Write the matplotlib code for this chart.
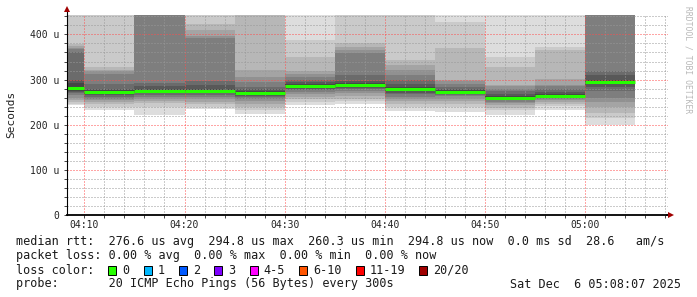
import matplotlib
matplotlib.use("Agg")
import matplotlib.pyplot as plt
from matplotlib.patches import Rectangle
from matplotlib.lines import Line2D
import numpy as np

W, H, DPI = 697, 297, 100
MONO = "DejaVu Sans Mono"

# ---------------- data ----------------
segment_starts = ["04:05", "04:10", "04:15", "04:20", "04:25", "04:30",
                  "04:35", "04:40", "04:45", "04:50", "04:55", "05:00"]
segment_len_min = 5
view_start = "04:08:16"
view_end = "05:08:16"

# 20 sorted ping round-trip times per 5-minute step (microseconds)
pings_0405 = [243, 246, 250, 255, 260, 265, 270, 272, 275, 278, 284, 292, 300, 361, 368, 370, 374, 378, 460, 500]
pings_0410 = [233, 240, 245, 250, 255, 258, 262, 265, 268, 270, 273, 276, 280, 290, 312, 318, 322, 327, 460, 480]
pings_0415 = [221, 240, 247, 252, 256, 262, 266, 270, 273, 274, 276, 280, 285, 293, 450, 460, 470, 480, 490, 500]
pings_0420 = [234, 240, 245, 250, 256, 262, 266, 270, 272, 274, 276, 280, 288, 296, 393, 396, 410, 423, 460, 480]
pings_0425 = [224, 232, 240, 246, 252, 257, 261, 264, 267, 269, 271, 274, 279, 284, 295, 306, 322, 460, 470, 480]
pings_0430 = [243, 250, 256, 262, 268, 273, 277, 280, 283, 285, 286.5, 290, 295, 300, 305, 313, 318, 350, 387, 480]
pings_0435 = [245, 252, 258, 264, 270, 275, 279, 282, 285, 287, 289, 292, 297, 310, 358, 365, 373, 380, 460, 480]
pings_0440 = [230, 240, 246, 252, 258, 262, 267, 271, 274, 277, 279, 283, 290, 299, 310, 321, 332, 343, 460, 480]
pings_0445 = [229, 240, 246, 252, 258, 263, 266, 269, 271, 272.5, 273.5, 276, 280, 283, 290, 296, 299, 369, 428, 480]
pings_0450 = [221, 232, 238, 243, 248, 251, 254, 256, 258, 259.5, 260.5, 263, 268, 275, 280, 285, 288, 328, 349, 480]
pings_0455 = [233, 241, 246, 250, 254, 257, 259, 261, 262, 263, 264, 267, 272, 278, 285, 288, 302, 365, 372, 480]
pings_0500 = [199, 214, 225, 240, 250, 260, 275, 283, 290, 293.5, 296, 300, 310, 319.5, 460, 470, 480, 490, 495, 500]
pings_us = [pings_0405, pings_0410, pings_0415, pings_0420, pings_0425, pings_0430,
            pings_0435, pings_0440, pings_0445, pings_0450, pings_0455, pings_0500]

x_tick_labels = ["04:10", "04:20", "04:30", "04:40", "04:50", "05:00"]
y_tick_values = [0, 100, 200, 300, 400]
y_tick_labels = ["0", "100 u", "200 u", "300 u", "400 u"]
y_max = 443

loss_labels = ["0", "1", "2", "3", "4-5", "6-10", "11-19", "20/20"]
loss_colors = ["#26ff00", "#00b8ff", "#0059ff", "#7e00ff", "#ff00ff", "#ff5500", "#ff0000", "#a00000"]

legend_rtt = "median rtt:  276.6 us avg  294.8 us max  260.3 us min  294.8 us now  0.0 ms sd  28.6   am/s"
legend_loss = "packet loss: 0.00 % avg  0.00 % max  0.00 % min  0.00 % now"
legend_probe = "probe:       20 ICMP Echo Pings (56 Bytes) every 300s"
legend_date = "Sat Dec  6 05:08:07 2025"


def to_min(s):
    parts = [int(p) for p in s.split(":")]
    h, m = parts[0], parts[1]
    sec = parts[2] if len(parts) > 2 else 0
    return (h - 4) * 60 + m + sec / 60.0


# ---------------- figure ----------------
fig = plt.figure(figsize=(W / DPI, H / DPI), dpi=DPI)
fig.patch.set_facecolor("white")
ax_l, ax_t, ax_w, ax_h = 67, 15, 601, 200
ax = fig.add_axes([ax_l / W, (H - ax_t - ax_h) / H, ax_w / W, ax_h / H])
ax.set_facecolor("white")

x0v, x1v = to_min(view_start), to_min(view_end)
ax.set_xlim(x0v, x1v)
ax.set_ylim(0, y_max)

# smoke + median
for start, p in zip(segment_starts, pings_us):
    p = sorted(p)
    n = len(p)
    half = n / 2
    xs = to_min(start)
    for ibot in range(1, n // 2 + 1):
        itop = n + 1 - ibot
        lo, hi = p[ibot - 1], p[itop - 1]
        g = int(190 / half * (half - ibot)) + 50
        col = "#%02x%02x%02x" % (g, g, g)
        ax.bar(xs, hi - lo, bottom=lo, width=segment_len_min, align="edge",
               color=col, linewidth=0, zorder=1 + ibot * 0.01, antialiased=False)
    med = (p[n // 2 - 1] + p[n // 2]) / 2
    ax.hlines(med, max(xs, x0v), xs + segment_len_min, colors=loss_colors[0],
              linewidth=2.2, zorder=5)

# grid
major_x = [to_min(t) for t in x_tick_labels]
ax.set_xticks(major_x)
ax.set_xticklabels(x_tick_labels)
ax.set_xticks(np.arange(10, 69, 2), minor=True)
ax.set_yticks(y_tick_values)
ax.set_yticklabels(y_tick_labels)
ax.set_yticks(np.arange(0, 441, 20), minor=True)
ax.set_axisbelow(False)
ax.grid(which="minor", color=(0.6, 0.6, 0.6, 0.32), linewidth=0.72,
        linestyle=(0, (1, 2)))
ax.grid(which="major", color=(1.0, 0.3, 0.3, 0.32), linewidth=0.72,
        linestyle=(0, (1, 2)))

for lab in ax.get_xticklabels() + ax.get_yticklabels():
    lab.set_fontfamily(MONO)
    lab.set_fontsize(7)
    lab.set_color("#222222")
ax.tick_params(axis="y", which="both", direction="out", length=2.5, width=0.7,
               pad=2.8, color="#444444")
ax.tick_params(axis="x", which="both", direction="out", length=2.0, width=0.7,
               pad=1.5, color="#444444")

for s in ["top", "right"]:
    ax.spines[s].set_visible(False)
ax.spines["left"].set_linewidth(0.8)
ax.spines["bottom"].set_linewidth(1.3)
ax.spines["left"].set_zorder(6)
ax.spines["bottom"].set_zorder(6)


def fx(px):
    return px / W


def fy(py):
    return 1 - py / H


# axis extensions and arrows
fig.add_artist(Line2D([fx(67), fx(67)], [fy(15), fy(10)], color="black", linewidth=0.8))
fig.add_artist(Line2D([fx(667), fx(670)], [fy(215), fy(215)], color="black", linewidth=1.3))
fig.add_artist(Line2D([fx(67)], [fy(9)], marker="^", markersize=4.2, color="#a00000",
                      markeredgewidth=0, linestyle="none"))
fig.add_artist(Line2D([fx(671)], [fy(215)], marker=">", markersize=4.2, color="#a00000",
                      markeredgewidth=0, linestyle="none"))

# axis label & watermark
fig.text(fx(11), fy(114), "Seconds", rotation=90, ha="center", va="center",
         fontfamily=MONO, fontsize=8, color="#222222")
fig.text(fx(688), fy(60), "RRDTOOL / TOBI OETIKER", rotation=270, ha="center", va="center",
         fontfamily=MONO, fontsize=5.8, color="#b8b8b8")

# legend rows
cw = 7.07
lx = 16.4
fs = 8.45
tc = "#1a1a1a"
fig.text(fx(lx), fy(241), legend_rtt, ha="left", va="center", fontfamily=MONO, fontsize=fs, color=tc)
fig.text(fx(lx), fy(256), legend_loss, ha="left", va="center", fontfamily=MONO, fontsize=fs, color=tc)
fig.text(fx(lx), fy(270), "loss color:", ha="left", va="center", fontfamily=MONO, fontsize=fs, color=tc)
col = 13
for lab, c in zip(loss_labels, loss_colors):
    sx = lx + col * cw
    fig.add_artist(Rectangle((fx(sx), fy(274.5)), 8 / W, 9 / H, facecolor=c,
                             edgecolor="black", linewidth=0.7, transform=fig.transFigure))
    fig.text(fx(lx + (col + 2) * cw), fy(270), lab, ha="left", va="center",
             fontfamily=MONO, fontsize=fs, color=tc)
    col += 2 + len(lab) + 2
fig.text(fx(lx), fy(284), legend_probe, ha="left", va="center", fontfamily=MONO, fontsize=fs, color=tc)
fig.text(fx(681), fy(284), legend_date, ha="right", va="center", fontfamily=MONO, fontsize=fs, color=tc)

fig.savefig("out.png", dpi=DPI)
